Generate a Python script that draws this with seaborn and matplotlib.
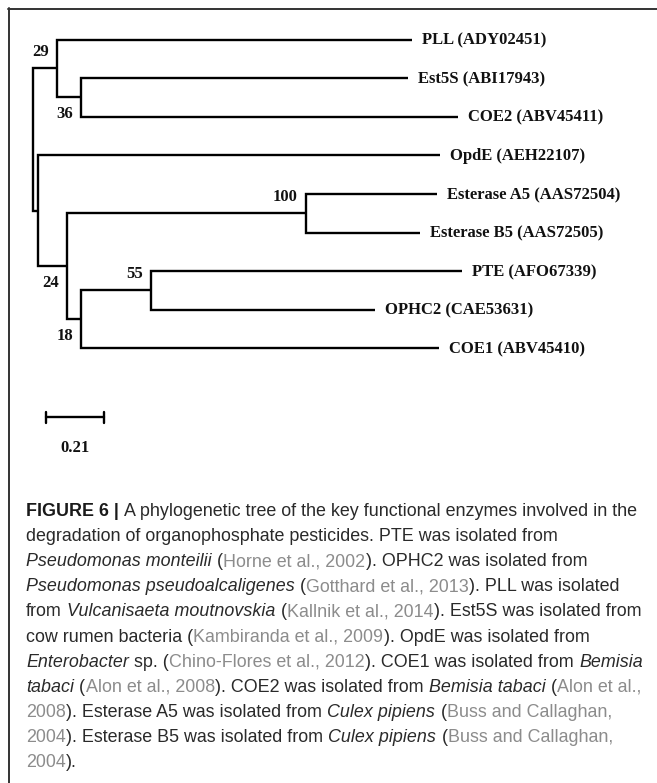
import matplotlib
matplotlib.use('Agg')
import numpy as np
import pandas as pd
import matplotlib.pyplot as plt
import seaborn as sns

# tree data (branch lengths, scale bar = 0.21)
leaves = ['PLL (ADY02451)', 'Est5S (ABI17943)', 'COE2 (ABV45411)', 'OpdE (AEH22107)',
          'Esterase A5 (AAS72504)', 'Esterase B5 (AAS72505)', 'PTE (AFO67339)',
          'OPHC2 (CAE53631)', 'COE1 (ABV45410)']
leaf_parent = ['n29', 'n36', 'n36', 'nA', 'n100', 'n100', 'n55', 'n55', 'n18']
leaf_len = [1.285, 1.186, 1.367, 1.457, 0.474, 0.413, 1.126, 0.812, 1.298]

nodes = ['n29', 'n36', 'nA', 'n24', 'n100', 'n18', 'n55']
node_parent = ['root', 'n29', 'root', 'nA', 'n24', 'n24', 'n18']
node_len = [0.087, 0.087, 0.018, 0.105, 0.866, 0.051, 0.254]
node_support = [29, 36, None, 24, 100, 18, 55]
support_side = [-1, 1, 0, 1, -1, 1, -1]   # label above (-1) or below (1) the node

scale_len = 0.21

W, H = 657, 783
PX_X = 276.0   # pixels per unit branch length
PX_Y = 38.6    # pixels per leaf row
X0, Y0 = 33, 39.5

sns.set_style('white')
fig = plt.figure(figsize=(W / 100, H / 100), dpi=100)
ax = fig.add_axes([0, 0, 1, 1])
ax.set_xlim(-X0 / PX_X, (W - X0) / PX_X)
ax.set_ylim((H - Y0) / PX_Y, -Y0 / PX_Y)
ax.axis('off')

# positions
xpos = {'root': 0.0}
parents = dict(zip(nodes, node_parent))
lens = dict(zip(nodes, node_len))


def get_x(n):
    if n not in xpos:
        xpos[n] = get_x(parents[n]) + lens[n]
    return xpos[n]


for n in nodes:
    get_x(n)
ypos = {}
children = {}
for i, (lf, p) in enumerate(zip(leaves, leaf_parent)):
    xpos[lf] = xpos[p] + leaf_len[i]
    ypos[lf] = i
    children.setdefault(p, []).append(lf)
for n, p in zip(nodes, node_parent):
    children.setdefault(p, []).append(n)


def get_y(n):
    if n not in ypos:
        ypos[n] = np.mean([get_y(c) for c in children[n]])
    return ypos[n]


get_y('root')

# elbow segments
rows = []
for k, (c, p) in enumerate([(lf, p) for lf, p in zip(leaves, leaf_parent)] +
                           list(zip(nodes, node_parent))):
    rows += [dict(seg=k, o=0, x=xpos[p], y=ypos[p]),
             dict(seg=k, o=1, x=xpos[p], y=ypos[c]),
             dict(seg=k, o=2, x=xpos[c], y=ypos[c])]
seg_df = pd.DataFrame(rows)
sns.lineplot(data=seg_df, x='x', y='y', units='seg', estimator=None, sort=False,
             color='black', lw=1.7, ax=ax, legend=False)
for line in ax.lines:
    line.set_solid_capstyle('butt')
    line.set_solid_joinstyle('miter')

serif = dict(family='Liberation Serif', fontweight='bold', fontsize=12, color='#111111')
for lf in leaves:
    ax.text(xpos[lf] + 10 / PX_X, ypos[lf] + 1 / PX_Y, lf, ha='left', va='center', **serif)
for n, s, side in zip(nodes, node_support, support_side):
    if s is None:
        continue
    ax.text(xpos[n] - 8 / PX_X, ypos[n] + side * 16.5 / PX_Y, str(s),
            ha='right', va='center', **serif)

# scale bar
sb_x = (46 - X0) / PX_X
sb_y = (417 - Y0) / PX_Y
tick = 5.5 / PX_Y
ax.plot([sb_x, sb_x + scale_len], [sb_y, sb_y], color='black', lw=1.7)
ax.plot([sb_x, sb_x], [sb_y - tick, sb_y + tick], color='black', lw=1.7)
ax.plot([sb_x + scale_len, sb_x + scale_len], [sb_y - tick, sb_y + tick], color='black', lw=1.7)
ax.text(sb_x + scale_len / 2, (448 - Y0) / PX_Y, f'{scale_len:.2f}', ha='center', va='center', **serif)

# frame (top and left edges)
fig.add_artist(plt.Line2D([8 / W, 1], [1 - 8.5 / H, 1 - 8.5 / H], color='#333333', lw=1.4))
fig.add_artist(plt.Line2D([8.5 / W, 8.5 / W], [1 - 8 / H, 0], color='#333333', lw=1.4))

# caption
caption = [
    [('FIGURE 6 |', 'b'), (' A phylogenetic tree of the key functional enzymes involved in the', 'n')],
    [('degradation of organophosphate pesticides. PTE was isolated from', 'n')],
    [('Pseudomonas monteilii', 'i'), (' (', 'n'), ('Horne et al., 2002', 'g'), ('). OPHC2 was isolated from', 'n')],
    [('Pseudomonas pseudoalcaligenes', 'i'), (' (', 'n'), ('Gotthard et al., 2013', 'g'), ('). PLL was isolated', 'n')],
    [('from', 'n'), (' Vulcanisaeta moutnovskia', 'i'), (' (', 'n'), ('Kallnik et al., 2014', 'g'), ('). Est5S was isolated from', 'n')],
    [('cow rumen bacteria (', 'n'), ('Kambiranda et al., 2009', 'g'), ('). OpdE was isolated from', 'n')],
    [('Enterobacter', 'i'), (' sp. (', 'n'), ('Chino-Flores et al., 2012', 'g'), ('). COE1 was isolated from', 'n'), (' Bemisia', 'i')],
    [('tabaci', 'i'), (' (', 'n'), ('Alon et al., 2008', 'g'), ('). COE2 was isolated from', 'n'), (' Bemisia tabaci', 'i'), (' (', 'n'), ('Alon et al.,', 'g')],
    [('2008', 'g'), ('). Esterase A5 was isolated from', 'n'), (' Culex pipiens', 'i'), (' (', 'n'), ('Buss and Callaghan,', 'g')],
    [('2004', 'g'), ('). Esterase B5 was isolated from', 'n'), (' Culex pipiens', 'i'), (' (', 'n'), ('Buss and Callaghan,', 'g')],
    [('2004', 'g'), (').', 'n')],
]
cap_fs = 12.9
base = dict(family='Liberation Sans', fontsize=cap_fs)
styles = {
    'n': dict(color='#2a2a2a', **base),
    'b': dict(color='#1a1a1a', fontweight='bold', **base),
    'i': dict(color='#2a2a2a', style='italic', **base),
    'g': dict(color='#8c8c8c', **base),
}
renderer = fig.canvas.get_renderer()
t1 = fig.text(0, 0, 'a a', **styles['n'])
t2 = fig.text(0, 0, 'aa', **styles['n'])
space_w = t1.get_window_extent(renderer).width - t2.get_window_extent(renderer).width
t1.remove()
t2.remove()

for li, segs in enumerate(caption):
    yb = 516 + li * 25.1
    x = 26.0
    for txt, sty in segs:
        if txt.startswith(' '):
            x += space_w
            txt = txt[1:]
        t = fig.text(x / W, 1 - yb / H, txt, va='baseline', ha='left', **styles[sty])
        x = t.get_window_extent(renderer).x1 + 0.3

fig.savefig('out.png', dpi=100)
